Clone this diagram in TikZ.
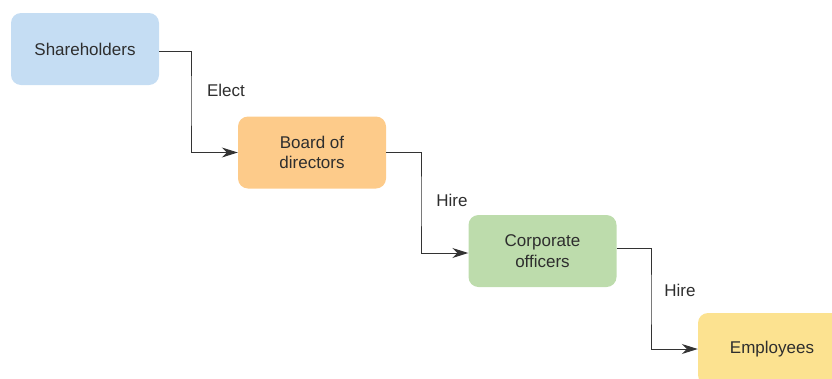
\documentclass[tikz,border=0pt]{standalone}
\usepackage{fontspec}
\setmainfont{Liberation Sans}
\usetikzlibrary{arrows.meta}
\definecolor{cblue}{HTML}{C5DDF3}
\definecolor{corange}{HTML}{FDCB8A}
\definecolor{cgreen}{HTML}{BDDCAC}
\definecolor{cyellow}{HTML}{FCE290}
\definecolor{textgray}{HTML}{2E2E2E}
\definecolor{linegray}{HTML}{333333}
\begin{document}
\begin{tikzpicture}[x=1pt,y=-1pt,
  box/.style={rounded corners=10pt, minimum width=148pt, minimum height=72pt, align=center, text=textgray, font=\fontsize{17}{20.5}\selectfont, inner sep=0pt},
  conn/.style={draw=linegray, line width=1pt, -{Stealth[length=16pt,width=10pt,inset=5pt]}},
  lbl/.style={text=textgray, font=\fontsize{17}{20.5}\selectfont, inner sep=0pt}]
\useasboundingbox (0,0) rectangle (832,378);
\clip (0,0) rectangle (832,378);
\node[box, fill=cblue] (sh) at (85,49) {Shareholders};
\node[box, fill=corange] (bd) at (312,152.5) {Board of\\directors};
\node[box, fill=cgreen] (co) at (542.5,251) {Corporate\\officers};
\node[box, fill=cyellow] (em) at (772,349) {Employees};
\coordinate (k1) at (191,100);
\coordinate (k2) at (421,200);
\coordinate (k3) at (651,300);
\draw[conn] ([yshift=-2pt]sh.east) -| (k1) |- (bd.west);
\draw[conn] (bd.east) -| (k2) |- ([yshift=-2pt]co.west);
\draw[conn] ([yshift=3pt]co.east) -| (k3) |- (em.west);
\node[lbl] (l1) at (226,90) {Elect};
\node[lbl] (l2) at (452,200) {Hire};
\node[lbl] (l3) at (680,290) {Hire};
\end{tikzpicture}
\end{document}
